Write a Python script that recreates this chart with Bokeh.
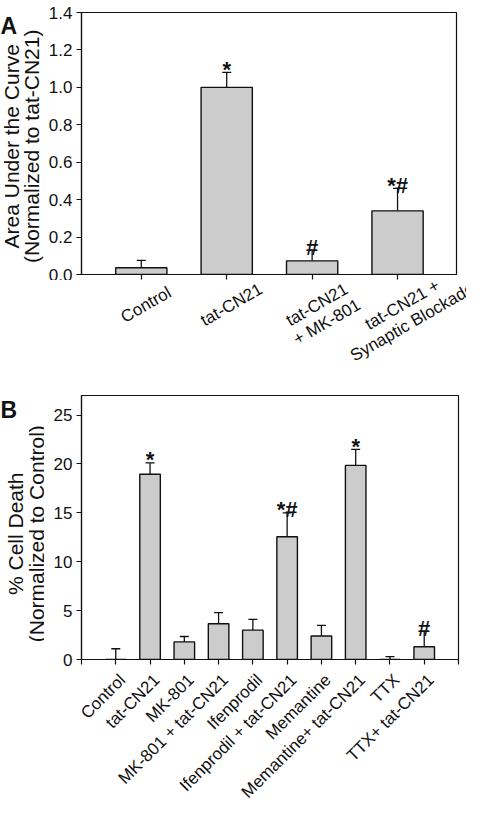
from bokeh.plotting import figure
from bokeh.models import (ColumnDataSource, FixedTicker, Whisker, TeeHead,
                          PrintfTickFormatter, Range1d)
from bokeh.layouts import column, row
from bokeh.core.properties import value
from bokeh.embed import file_html
from bokeh.resources import INLINE
import math

# ---------------- data ----------------
a_categories = ["Control", "tat-CN21", "tat-CN21\n+ MK-801", "tat-CN21 +\nSynaptic Blockade"]
a_values = [0.036, 1.0, 0.073, 0.34]
a_errors = [0.039, 0.08, 0.057, 0.12]
a_marks = ["", "*", "#", "*#"]
a_yticks = [0.0, 0.2, 0.4, 0.6, 0.8, 1.0, 1.2, 1.4]
a_ylabel = ["Area Under the Curve", "(Normalized to tat-CN21)"]

b_categories = ["Control", "tat-CN21", "MK-801", "MK-801 + tat-CN21", "Ifenprodil",
                "Ifenprodil + tat-CN21", "Memantine", "Memantine+ tat-CN21", "TTX", "TTX+ tat-CN21"]
b_values = [0.0, 18.95, 1.8, 3.65, 3.0, 12.55, 2.4, 19.85, 0.0, 1.3]
b_errors = [1.1, 1.15, 0.55, 1.15, 1.1, 2.45, 1.1, 1.65, 0.3, 1.6]
b_marks = ["", "*", "", "", "", "*#", "", "*", "", "#"]
b_yticks = [0, 5, 10, 15, 20, 25]
b_ylabel = ["% Cell Death", "(Normalized to Control)"]

FONT = "Liberation Sans"
BAR_FILL = "#cccccc"
INK = "#111111"
TOTAL_W = 466
SIDE_W = 44
LABEL_PX = 17

# approximate advance widths (em) of the sans font, used to centre rotated labels
_EM = {"t": .278, "a": .556, "-": .333, "C": .722, "N": .722, "2": .556, "1": .556, "+": .584,
       " ": .278, "M": .833, "K": .667, "8": .556, "0": .556, "S": .667, "y": .5, "n": .556,
       "p": .556, "i": .222, "c": .5, "B": .667, "l": .222, "o": .556, "k": .5, "d": .556,
       "e": .556, "r": .333}


def text_px(s):
    return sum(_EM.get(ch, .556) for ch in s) * LABEL_PX


def blank_fig(w, h, xr, yr):
    f = figure(width=w, height=h, output_backend="svg", toolbar_location=None,
               x_range=xr, y_range=yr, x_axis_location=None, y_axis_location=None,
               min_border_left=0, min_border_right=0, min_border_top=0, min_border_bottom=0)
    f.outline_line_color = None
    f.grid.visible = False
    f.background_fill_color = "white"
    f.border_fill_color = "white"
    return f


def make_chart(cats, vals, errs, marks, yticks, y_end, x_start, x_end, width, height,
               borders, tick_fmt, extra_ticks):
    n = len(cats)
    xs = list(range(n))
    src = ColumnDataSource(dict(x=xs, top=vals, upper=[v + e for v, e in zip(vals, errs)],
                                base=[0] * n))
    mk = [i for i in range(n) if marks[i]]
    msrc = ColumnDataSource(dict(x=[xs[i] for i in mk], upper=[vals[i] + errs[i] for i in mk],
                                 mark=[marks[i] for i in mk]))
    p = figure(width=width, height=height, output_backend="svg", toolbar_location=None,
               x_range=Range1d(x_start, x_end), y_range=Range1d(0, y_end),
               min_border_left=borders[0], min_border_right=borders[1],
               min_border_top=borders[2], min_border_bottom=borders[3])
    p.background_fill_color = "white"
    p.border_fill_color = "white"
    p.grid.visible = False
    p.outline_line_color = INK
    p.outline_line_width = 1.2

    p.vbar(x="x", top="top", bottom="base", width=0.6, source=src,
           fill_color=BAR_FILL, line_color=INK, line_width=1.4)
    p.add_layout(Whisker(source=src, base="x", lower="top", upper="upper", dimension="height",
                         line_color=INK, line_width=1.3, lower_head=None,
                         upper_head=TeeHead(size=9, line_color=INK, line_width=1.3)))
    p.text(x="x", y="upper", text="mark", source=msrc, text_align="center",
           text_baseline="alphabetic", y_offset=-3, text_font=value(FONT),
           text_font_style="bold", text_font_size="22px", text_color=INK)

    yax = p.yaxis[0]
    yax.ticker = FixedTicker(ticks=yticks)
    yax.formatter = PrintfTickFormatter(format=tick_fmt)
    yax.major_tick_out = 5
    yax.major_tick_in = 0
    yax.minor_tick_line_color = None
    yax.axis_line_color = INK
    yax.axis_line_width = 1.2
    yax.major_tick_line_color = INK
    yax.major_tick_line_width = 1.2
    yax.major_label_text_font = FONT
    yax.major_label_text_font_size = "17px"
    yax.major_label_text_color = INK
    yax.major_label_standoff = 4

    xax = p.xaxis[0]
    xax.ticker = FixedTicker(ticks=xs + extra_ticks)
    xax.major_label_text_font_size = "0px"
    xax.major_label_text_color = None
    xax.major_label_standoff = 0
    xax.major_tick_out = 5
    xax.major_tick_in = 0
    xax.minor_tick_line_color = None
    xax.axis_line_color = INK
    xax.axis_line_width = 1.2
    xax.major_tick_line_color = INK
    xax.major_tick_line_width = 1.2
    return p


def make_side(h, letter, letter_base, title_lines, title_x, title_y):
    # coordinates: x = px from the left, y = px from the bottom
    f = blank_fig(SIDE_W, h, Range1d(0, SIDE_W), Range1d(0, h))
    f.text(x=[0], y=[h - letter_base], text=[letter], text_font=value(FONT), text_font_style="bold",
           text_font_size="23px", text_color=INK, text_baseline="alphabetic", text_align="left")
    f.text(x=title_x, y=[h - title_y] * len(title_lines), text=title_lines, angle=90,
           angle_units="deg", text_font=value(FONT), text_font_size="21px", text_color=INK,
           text_baseline="alphabetic", text_align="center")
    return f


def make_labels(cats, h, x_start, x_end, frame_l, frame_r, y_anchor, angle_deg, centred, pitch):
    """Rotated category labels; every label is drawn right-aligned at its end point."""
    k = (frame_r - frame_l) / (x_end - x_start)
    xr = Range1d(x_start - (frame_l - 8) / k, x_end + (8 + TOTAL_W - frame_r) / k)
    f = blank_fig(TOTAL_W, h, xr, Range1d(0, h))
    th = math.radians(angle_deg)
    lx, ly, lt = [], [], []
    for i, cat in enumerate(cats):
        for j, line in enumerate(cat.split("\n")):
            half = text_px(line) / 2 if centred else 0.0
            lx.append(i + (j * pitch * math.sin(th) + half * math.cos(th)) / k)
            ly.append(h - y_anchor - j * pitch * math.cos(th) + half * math.sin(th))
            lt.append(line)
    src = ColumnDataSource(dict(x=lx, y=ly, label=lt))
    f.text(x="x", y="y", text="label", source=src, angle=angle_deg, angle_units="deg",
           text_align="right", text_baseline="top", text_font=value(FONT),
           text_font_size=f"{LABEL_PX}px", text_color=INK)
    return f


# ---- panel A (page rows 8..288 chart, 288..400 labels) ----
A_H, A_LH = 280, 112
chartA = make_chart(a_categories, a_values, a_errors, a_marks, a_yticks, 1.4, -0.7, 3.69,
                    TOTAL_W - SIDE_W, A_H, (89 - 8 - SIDE_W, 10, 12, 6), "%.1f", [])
sideA = make_side(A_H, "A", 14, a_ylabel, [11, 31], 143)
labelsA = make_labels(a_categories, A_LH, -0.7, 3.69, 89, 464, 16, 30, True, 20)

# ---- panel B (page rows 400..675 chart, 675..814 labels) ----
B_H, B_LH = 275, 139
chartB = make_chart(b_categories, b_values, b_errors, b_marks, b_yticks, 27, -1, 10,
                    TOTAL_W - SIDE_W, B_H, (89 - 8 - SIDE_W, 8, 3, 8), "%d", [-1, 10])
sideB = make_side(B_H, "B", 15, b_ylabel, [15, 36], 144)
labelsB = make_labels(b_categories, B_LH, -1, 10, 89, 466, 3, 45, False, 19)

layout = column(row(sideA, chartA), labelsA, row(sideB, chartB), labelsB)
open("out.html", "w").write(file_html(layout, INLINE))
